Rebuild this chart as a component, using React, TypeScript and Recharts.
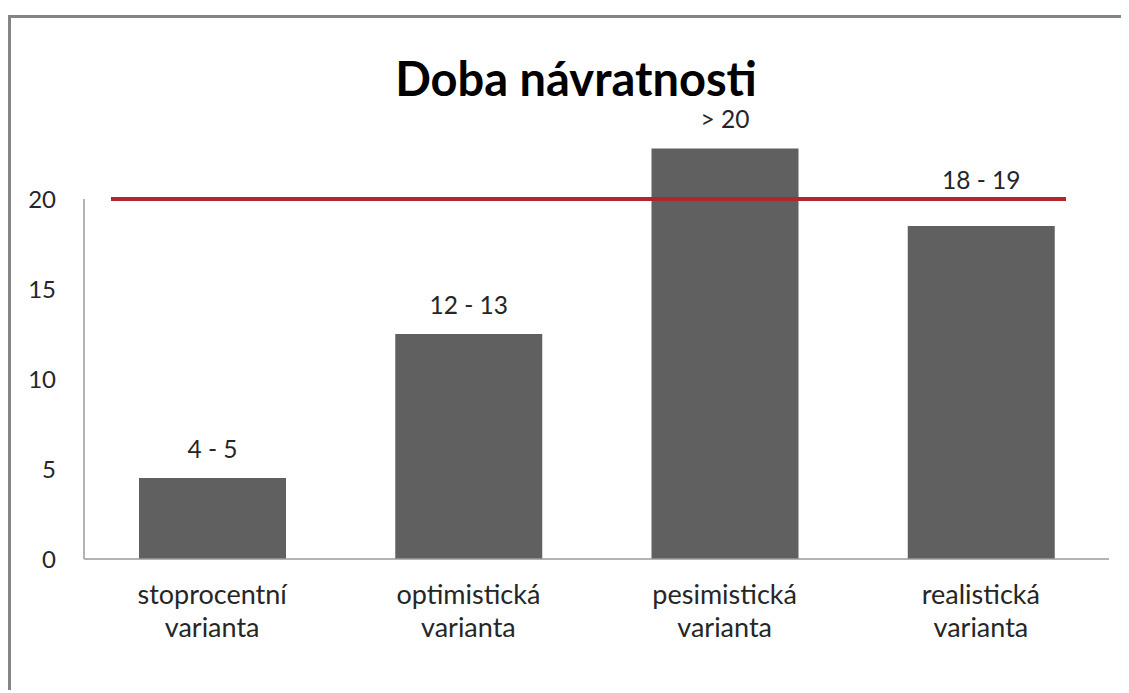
import { BarChart, Bar, XAxis, YAxis, ReferenceLine, ReferenceArea, LabelList } from 'recharts';

// Doba návratnosti (roky) podle varianty
const CATEGORIES = ['stoprocentní varianta', 'optimistická varianta', 'pesimistická varianta', 'realistická varianta'];
const PAYBACK_YEARS = [4.5, 12.5, 22.8, 18.5];
const VALUE_LABELS = ['4 - 5', '12 - 13', '> 20', '18 - 19'];
const Y_TICKS = [0, 5, 10, 15, 20];
const LIMIT = 20;

const FONT = 'Lato, "Open Sans", sans-serif';
const TEXT = '#262626';
const BAR = '#606060';
const RED = '#b2262b';
const AXIS = '#9a9a9a';

const rows = CATEGORIES.map((name, i) => ({ name, value: PAYBACK_YEARS[i], label: VALUE_LABELS[i] }));

function CategoryTick({ x, y, payload }: any) {
  const lines = String(payload.value).split(' ');
  return (
    <g transform={`translate(${x},${y})`}>
      <text textAnchor="middle" fontFamily={FONT} fontSize={27} fill={TEXT}>
        {lines.map((l, i) => (
          <tspan key={i} x={0} dy={i === 0 ? 37 : 33}>{l}</tspan>
        ))}
      </text>
    </g>
  );
}

// popisek nad sloupcem; když by se srazil s červenou čarou, zvedne se nad ni
function ValueLabel({ x, y, width, height, value, index }: any) {
  const lift = 29;
  const unit = height / PAYBACK_YEARS[index];
  const limitY = y + height - LIMIT * unit;
  let cy = y - lift;
  if (Math.abs(cy - limitY) < 16) cy = limitY - 19;
  return (
    <text x={x + width / 2} y={cy} dy="0.35em" textAnchor="middle" fontFamily={FONT} fontSize={24.5} fill={TEXT}>
      {value}
    </text>
  );
}

// svislá osa jen do hodnoty 20
function AxisStub({ x, y, height }: any) {
  return <line x1={x} y1={y} x2={x} y2={y + height} stroke={AXIS} strokeWidth={1.5} />;
}

// červená hranice 20 let, kratší než plocha grafu
function LimitLine({ x1, y1, x2 }: any) {
  return <line x1={x1 + 27} y1={y1} x2={x2 - 43} y2={y1} stroke={RED} strokeWidth={4} />;
}

export default function App() {
  return (
    <div
      style={{
        position: 'relative',
        width: 1118,
        height: 672,
        marginTop: 7,
        borderTop: '3px solid #858585',
        borderLeft: '3px solid #858585',
        background: '#fff',
        overflow: 'hidden',
      }}
    >
      <div
        style={{
          position: 'absolute',
          left: 15,
          top: 30,
          width: 1100,
          textAlign: 'center',
          fontFamily: FONT,
          fontWeight: 700,
          fontSize: 47,
          color: '#000',
          lineHeight: '60px',
        }}
      >
        Doba návratnosti
      </div>
      <BarChart width={1118} height={672} data={rows} margin={{ top: 91, right: 20, bottom: 31, left: 0 }}>
        <XAxis
          dataKey="name"
          height={100}
          interval={0}
          tickLine={false}
          axisLine={{ stroke: AXIS, strokeWidth: 1.5 }}
          tick={<CategoryTick />}
        />
        <YAxis
          width={73}
          domain={[0, 25]}
          ticks={Y_TICKS}
          axisLine={false}
          tickLine={false}
          tickSize={0}
          tickMargin={28}
          tick={{ fontFamily: FONT, fontSize: 24, fill: TEXT }}
        />
        <ReferenceArea y1={0} y2={LIMIT} shape={<AxisStub />} ifOverflow="visible" />
        <Bar dataKey="value" fill={BAR} barSize={147} isAnimationActive={false}>
          <LabelList dataKey="label" content={<ValueLabel />} />
        </Bar>
        <ReferenceLine y={LIMIT} shape={<LimitLine />} ifOverflow="visible" />
      </BarChart>
    </div>
  );
}
